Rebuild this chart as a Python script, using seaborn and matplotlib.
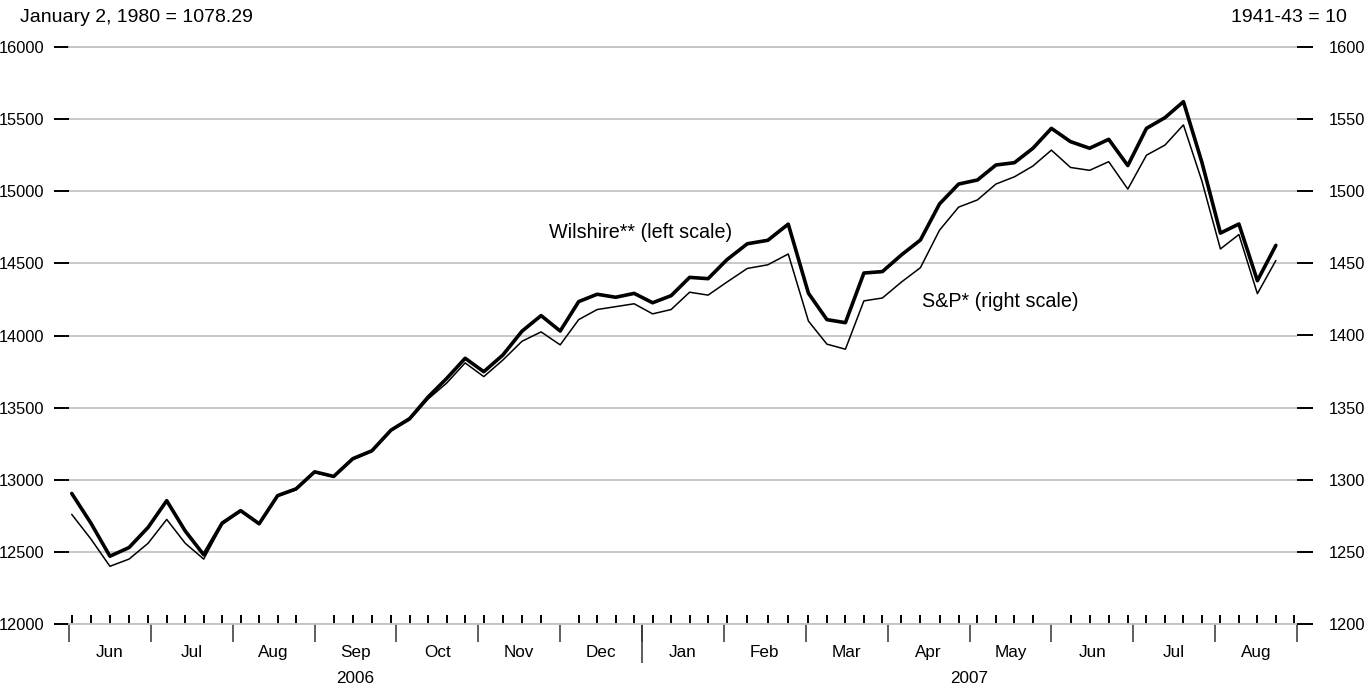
import numpy as np
import pandas as pd
import matplotlib
matplotlib.use("Agg")
import matplotlib.pyplot as plt
import seaborn as sns

# ---- data (weekly, Fridays) ----
week_start = "2006-06-02"
n_weeks = 65
wilshire = [12905, 12700, 12470, 12530, 12670, 12855, 12645, 12480, 12700, 12786,
            12695, 12890, 12937, 13055, 13023, 13146, 13201, 13344, 13424, 13574,
            13702, 13842, 13749, 13865, 14030, 14138, 14031, 14235, 14286, 14265,
            14292, 14227, 14276, 14403, 14394, 14525, 14636, 14660, 14772, 14293,
            14110, 14089, 14433, 14443, 14558, 14662, 14912, 15050, 15078, 15182,
            15198, 15298, 15436, 15344, 15298, 15360, 15178, 15436, 15510, 15621,
            15200, 14710, 14773, 14380, 14625]
sp500 = [1276, 1259, 1240, 1245, 1256, 1272.5, 1256, 1245, 1269, 1278,
         1269, 1288.5, 1293, 1305, 1302, 1314, 1319.5, 1334, 1341.5, 1356,
         1367, 1381, 1371.5, 1383, 1396, 1402.5, 1393.5, 1411, 1418, 1420,
         1422, 1415, 1418, 1430, 1428, 1437, 1446.5, 1449, 1456.5, 1410,
         1394, 1390.5, 1424, 1426, 1437, 1447, 1473, 1489, 1494, 1505,
         1510, 1517.5, 1528.5, 1516.5, 1514.5, 1520.5, 1501.5, 1525, 1532, 1546,
         1507, 1460, 1470, 1429, 1452]
month_labels = ["Jun", "Jul", "Aug", "Sep", "Oct", "Nov", "Dec",
                "Jan", "Feb", "Mar", "Apr", "May", "Jun", "Jul", "Aug"]
year_labels = ["2006", "2007"]
left_ticks = [12000, 12500, 13000, 13500, 14000, 14500, 15000, 15500, 16000]
right_ticks = [1200, 1250, 1300, 1350, 1400, 1450, 1500, 1550, 1600]
left_note = "January 2, 1980 = 1078.29"
right_note = "1941-43 = 10"
wil_label = "Wilshire** (left scale)"
sp_label = "S&P* (right scale)"

# ---- month-based scale: each month has equal width ----
origin = pd.Timestamp("2006-06-01")


def month_pos(ts):
    k = (ts.year - origin.year) * 12 + (ts.month - origin.month)
    return k + (ts.day - 1) / ts.days_in_month


dates = pd.date_range(week_start, periods=n_weeks, freq="7D")
xpos = np.array([month_pos(d) for d in dates])
df = pd.DataFrame({"x": xpos, "wil": wilshire, "sp": sp500})

# weekly tick positions (Fridays over the whole axis span)
tick_days = pd.date_range("2006-06-02", "2007-08-31", freq="7D")
week_ticks = [month_pos(d) for d in tick_days]
n_months = len(month_labels)
month_bounds = list(range(n_months + 1))
month_centers = [k + 0.5 for k in range(n_months)]
year_bound = 7  # Jan 2007
year_centers = [year_bound / 2, (year_bound + n_months) / 2]

sns.set_theme(style="white")
plt.rcParams["font.family"] = ["Liberation Sans", "DejaVu Sans"]
plt.rcParams["text.color"] = "black"
plt.rcParams["xtick.labelcolor"] = "black"
plt.rcParams["ytick.labelcolor"] = "black"

fig = plt.figure(figsize=(13.69, 6.88), dpi=100)
ax = fig.add_axes([69 / 1369, 64 / 688, (1297 - 69) / 1369, (624 - 47) / 688])
ax2 = ax.twinx()

grid_c = "#c4c4c4"
sns.lineplot(data=df, x="x", y="sp", ax=ax2, color="black", linewidth=1.1)
sns.lineplot(data=df, x="x", y="wil", ax=ax, color="black", linewidth=2.6)

ax.set_xlim(0, n_months)
ax.set_ylim(12000, 16000)
ax2.set_ylim(1200, 1600)
ax.set_xlabel("")
ax.set_ylabel("")
ax2.set_ylabel("")

for a in (ax, ax2):
    for s in a.spines.values():
        s.set_visible(False)
ax.spines["bottom"].set_visible(True)
ax.spines["bottom"].set_color(grid_c)
ax.spines["bottom"].set_linewidth(1.3)
ax.spines["top"].set_visible(True)
ax.spines["top"].set_color(grid_c)
ax.spines["top"].set_linewidth(1.3)

ax.set_yticks(left_ticks)
ax.set_yticklabels([str(v) for v in left_ticks])
ax.yaxis.grid(True, color=grid_c, linewidth=1.3)
ax.xaxis.grid(False)
ax.tick_params(axis="y", which="major", direction="out", length=10.5, width=1.4,
               color="black", pad=7, labelsize=11.8, left=True, labelcolor="black")
ax2.set_yticks(right_ticks)
ax2.set_yticklabels([str(v) for v in right_ticks])
ax2.tick_params(axis="y", which="major", direction="out", length=11.5, width=1.4,
                color="black", pad=11, labelsize=11.8, right=True, labelcolor="black")

# x axis: month boundaries (out), weekly ticks (in)
ax.set_xticks(month_bounds)
ax.set_xticklabels([])
ax.set_xticks(week_ticks, minor=True)
ax.tick_params(axis="x", which="major", direction="out", length=13, width=1.1,
               color="#333333", bottom=True)
ax.tick_params(axis="x", which="minor", direction="in", length=6.5, width=1.4,
               color="black", bottom=True)

# year boundary tick (longer)
yax = ax.secondary_xaxis("bottom")
yax.set_xticks([year_bound])
yax.set_xticklabels([""])
yax.tick_params(length=28, width=1.1, color="#333333")
for s in yax.spines.values():
    s.set_visible(False)

# month labels
mlab = ax.secondary_xaxis("bottom")
mlab.set_xticks(month_centers)
mlab.set_xticklabels(month_labels)
mlab.tick_params(length=0, pad=15, labelsize=12.3, labelcolor="black")
for s in mlab.spines.values():
    s.set_visible(False)

# year labels
ylab = ax.secondary_xaxis("bottom")
ylab.set_xticks(year_centers)
ylab.set_xticklabels(year_labels)
ylab.tick_params(length=0, pad=34, labelsize=12.3, labelcolor="black")
for s in ylab.spines.values():
    s.set_visible(False)

# notes and series labels
fig.text(20 / 1369, 1 - 17 / 688, left_note, ha="left", va="center", fontsize=14,
         color="black")
fig.text(1347 / 1369, 1 - 17 / 688, right_note, ha="right", va="center", fontsize=14,
         color="black")
ax.text(0.391, 0.679, wil_label, transform=ax.transAxes, ha="left", va="center",
        fontsize=14.2, color="black")
ax.text(0.695, 0.559, sp_label, transform=ax.transAxes, ha="left", va="center",
        fontsize=14.2, color="black")

fig.savefig("out.png", dpi=100, facecolor="white")
